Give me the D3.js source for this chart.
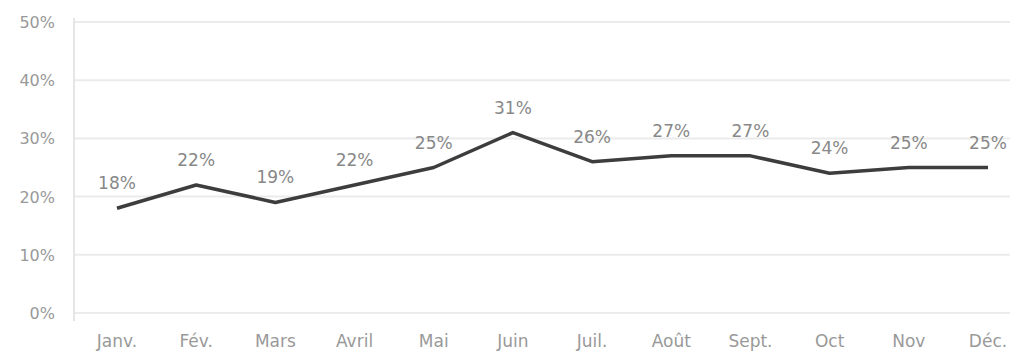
<!DOCTYPE html>
<html>
<head>
<meta charset="utf-8">
<script src="https://cdn.jsdelivr.net/npm/d3@7"></script>
<style>
body { margin: 0; background: #fff; }
text { font-family: "DejaVu Sans", Verdana, sans-serif; }
</style>
</head>
<body>
<svg id="chart"></svg>
<script>
// chart data
var months = ["Janv.", "Fév.", "Mars", "Avril", "Mai", "Juin", "Juil.", "Août", "Sept.", "Oct", "Nov", "Déc."];
var values = [18, 22, 19, 22, 25, 31, 26, 27, 27, 24, 25, 25];
var yTicks = [0, 10, 20, 30, 40, 50];

var width = 1017, height = 358;
var plot = {left: 74, right: 1010, top: 22, bottom: 313};

var svg = d3.select("#chart")
	.attr("width", width)
	.attr("height", height);

var x = d3.scalePoint()
	.domain(months)
	.range([117, 988]);

var y = d3.scaleLinear()
	.domain([0, 50])
	.range([plot.bottom, plot.top]);

//horizontal gridlines
svg.append("g")
	.selectAll("line")
	.data(yTicks)
	.enter()
	.append("line")
	.attr("x1", plot.left)
	.attr("x2", plot.right)
	.attr("y1", function(d) { return y(d); })
	.attr("y2", function(d) { return y(d); })
	.attr("stroke", "#ebebeb")
	.attr("stroke-width", 2);

//left axis line
svg.append("line")
	.attr("x1", plot.left)
	.attr("x2", plot.left)
	.attr("y1", plot.top - 4)
	.attr("y2", plot.bottom + 8)
	.attr("stroke", "#e6e6e6")
	.attr("stroke-width", 2);

//y tick labels
svg.append("g")
	.selectAll("text")
	.data(yTicks)
	.enter()
	.append("text")
	.attr("x", 55)
	.attr("y", function(d) { return y(d) + 6; })
	.attr("text-anchor", "end")
	.attr("fill", "#999")
	.attr("font-size", 16)
	.text(function(d) { return d + "%"; });

//x labels
svg.append("g")
	.selectAll("text")
	.data(months)
	.enter()
	.append("text")
	.attr("x", function(d) { return x(d); })
	.attr("y", 347)
	.attr("text-anchor", "middle")
	.attr("fill", "#999")
	.attr("font-size", 17)
	.text(function(d) { return d; });

//the line
var line = d3.line()
	.x(function(d, i) { return x(months[i]); })
	.y(function(d) { return y(d); });

svg.append("path")
	.datum(values)
	.attr("d", line)
	.attr("fill", "none")
	.attr("stroke", "#3d3d3d")
	.attr("stroke-width", 3.5)
	.attr("stroke-linejoin", "round");

//value labels
svg.append("g")
	.selectAll("text")
	.data(values)
	.enter()
	.append("text")
	.attr("x", function(d, i) { return x(months[i]); })
	.attr("y", function(d) { return y(d) - 19; })
	.attr("text-anchor", "middle")
	.attr("fill", "#888")
	.attr("font-size", 17)
	.text(function(d) { return d + "%"; });
</script>
</body>
</html>
